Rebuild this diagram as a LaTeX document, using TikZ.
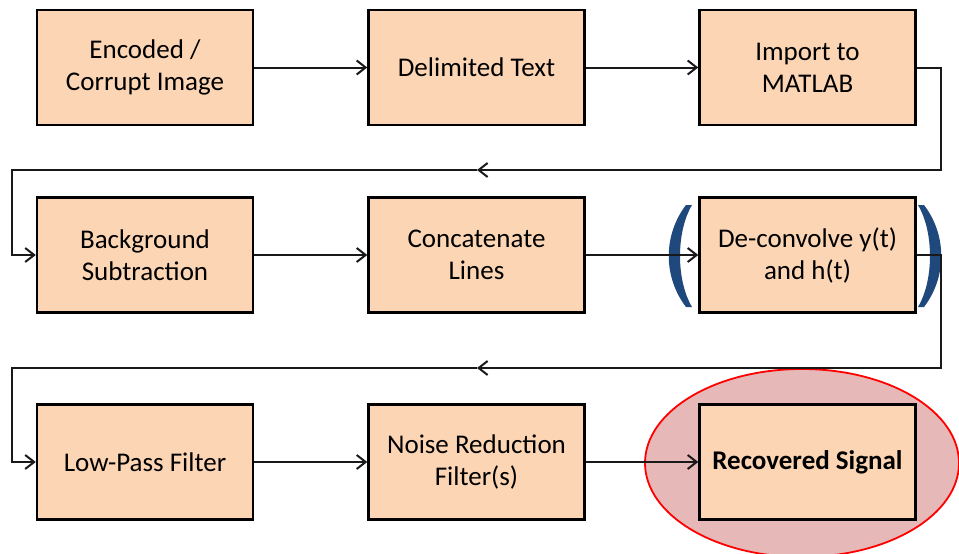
\documentclass[tikz,border=0pt]{standalone}
\usepackage{fontspec}
\setmainfont{Carlito}
\usetikzlibrary{arrows.meta}
\definecolor{boxfill}{RGB}{252,213,181}
\definecolor{ellfill}{RGB}{230,185,184}
\definecolor{parblue}{RGB}{31,73,125}
\tikzset{
  stepbox/.style={draw=black, line width=2.4pt, fill=boxfill, minimum width=216pt, minimum height=115pt, inner sep=0pt, align=center, font=\fontsize{27}{32}\selectfont},
  conn/.style={line width=2pt, draw=black!90},
  arr/.style={conn, -{Straight Barb[length=9pt,width=14pt,line width=2pt]}},
}
\begin{document}
\begin{tikzpicture}[x=1pt,y=-1pt]
\useasboundingbox (0,0) rectangle (959,554);
\fill[white] (0,0) rectangle (959,554);
% ellipse
\fill[ellfill, draw=red, line width=1.8pt] (802,463) ellipse [x radius=157pt, y radius=94pt];
% nodes
\node[stepbox] (b1) at (145,67.5) {Encoded /\\Corrupt Image};
\node[stepbox] (b2) at (476.5,67.5) {Delimited Text};
\node[stepbox] (b3) at (807.5,67.5) {Import to\\MATLAB};
\node[stepbox] (b4) at (145,255) {Background\\Subtraction};
\node[stepbox] (b5) at (476.5,255) {Concatenate\\Lines};
\node[stepbox] (b6) at (807.5,255) {De-convolve y(t)\\and h(t)};
\node[stepbox] (b7) at (145,462) {Low-Pass Filter};
\node[stepbox] (b8) at (476.5,462) {Noise Reduction\\Filter(s)};
\node[stepbox] (b9) at (807.5,462) {\textbf{Recovered Signal}};
% coordinates for return lines
\coordinate (r1a) at (941,170);
\coordinate (r1m) at (477,170);
\coordinate (r1b) at (12,170);
\coordinate (r2a) at (941,368);
\coordinate (r2m) at (477,368);
\coordinate (r2b) at (12,368);
% parentheses
\fill[parblue] (686,205) .. controls (663,235) and (663,277) .. (686,307) -- (692,307) .. controls (676,280) and (676,232) .. (692,205) -- cycle;
\fill[parblue] (924,205) .. controls (947,235) and (947,277) .. (924,307) -- (918,307) .. controls (934,280) and (934,232) .. (918,205) -- cycle;
% connectors
\draw[arr] (b1) -- (b2);
\draw[arr] (b2) -- (b3);
\draw[arr] (b3.east) -| (r1a) -- (r1m);
\draw[arr] (r1m) -- (r1b) |- (b4.west);
\draw[arr] (b4) -- (b5);
\draw[arr] (b5) -- (b6);
\draw[arr] (b6.east) -| (r2a) -- (r2m);
\draw[arr] (r2m) -- (r2b) |- (b7.west);
\draw[arr] (b7) -- (b8);
\draw[arr] (b8) -- (b9);
\end{tikzpicture}
\end{document}
